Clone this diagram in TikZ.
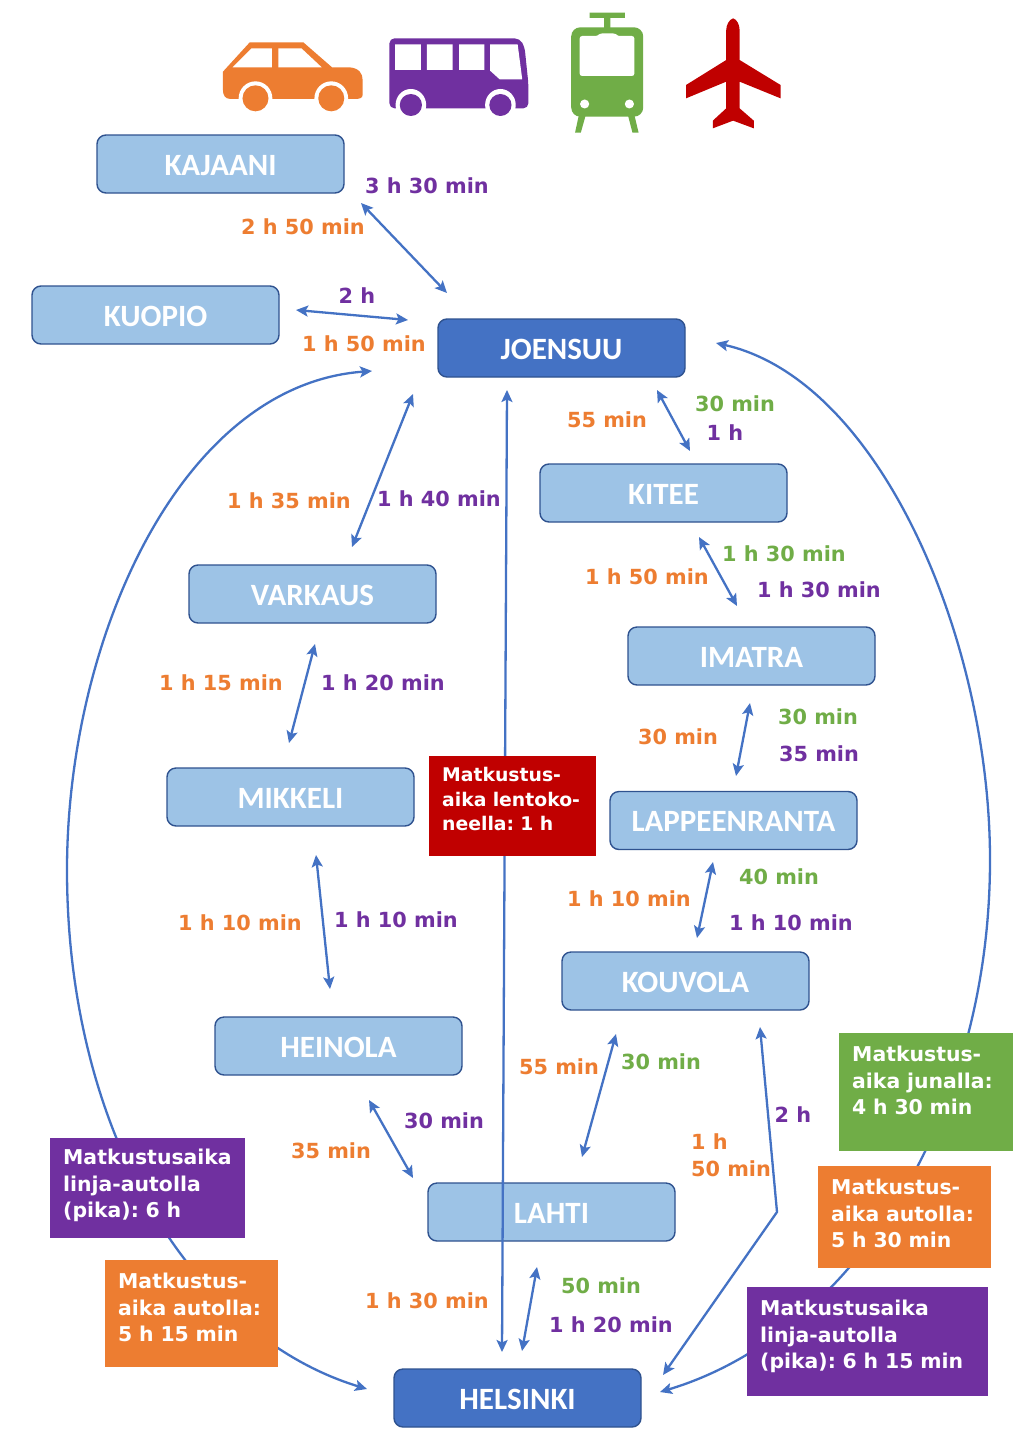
\documentclass[tikz,border=0pt]{standalone}
\usepackage{fontspec}
\setmainfont{DejaVu Sans}
\newfontfamily\boxfont{Carlito}
\usepackage{xcolor}
\usepackage{tikz}
\usetikzlibrary{arrows.meta}
\definecolor{carcol}{HTML}{ED7D31}
\definecolor{buscol}{HTML}{7030A0}
\definecolor{traincol}{HTML}{70AD47}
\definecolor{planecol}{HTML}{C00000}
\definecolor{citycol}{HTML}{9DC3E6}
\definecolor{hubcol}{HTML}{4472C4}
\definecolor{edgecol}{HTML}{2F528F}

\begin{document}
\begin{tikzpicture}[
  x=1pt, y=-1pt, >={Stealth[length=12pt,width=11pt,inset=2.5pt]},
  city/.style={draw=edgecol, line width=1.4pt, rounded corners=9pt, fill=citycol, text=white, font=\boxfont\bfseries\fontsize{31}{33}\selectfont, minimum width=247pt, minimum height=58pt, inner sep=0pt, text height=22pt, text depth=0pt},
  hub/.style={city, fill=hubcol},
  carl/.style={text=carcol, font=\bfseries\fontsize{20.8}{27}\selectfont, inner sep=0pt, align=left},
  busl/.style={carl, text=buscol},
  trainl/.style={carl, text=traincol},
  info/.style={anchor=north west, text=white, font=\bfseries\fontsize{20.4}{26.5}\selectfont\frenchspacing, align=left, inner sep=0pt, text width=#1-26pt, inner xsep=13pt},
  arr/.style={<->, line width=2.3pt, color=hubcol},
]
\useasboundingbox (0,0) rectangle (1024,1448);
\fill[white] (0,0) rectangle (1024,1448);

% icons
\begin{scope}[shift={(200,0)}, xscale=0.3827, yscale=0.3333]
  \fill[carcol] (60,215) -- (130,127) -- (270,127) -- (345,202) -- (390,202) .. controls (415,204) and (425,220) .. (425,240) -- (425,285) .. controls (425,295) and (415,297) .. (405,297) -- (80,297) .. controls (65,297) and (60,285) .. (60,270) -- cycle;
  \fill[white] (85,202) -- (135,145) -- (188,145) -- (188,202) -- cycle;
  \fill[white] (205,145) -- (265,145) -- (318,202) -- (205,202) -- cycle;
  \fill[white] (145,295) ellipse (44 and 51) (343,295) ellipse (44 and 51);
  \fill[carcol] (145,295) ellipse (34 and 39) (343,295) ellipse (34 and 39);

  \fill[buscol, rounded corners=5pt] (495,115) -- (835,115) -- (848,140) -- (858,250) -- (858,325) -- (495,325) -- cycle;
  \fill[white] (510,133) rectangle (577,210) (593,133) rectangle (660,210) (677,133) rectangle (743,210);
  \fill[white] (758,133) -- (830,133) -- (842,238) -- (783,238) -- (758,212) -- cycle;
  \fill[white] (551,315) ellipse (40 and 48) (785,315) ellipse (40 and 48);
  \fill[buscol] (551,315) ellipse (29 and 33) (785,315) ellipse (29 and 33);

  \fill[traincol] (1018,38) rectangle (1110,54) (1056,54) rectangle (1072,85);
  \fill[traincol, rounded corners=9pt] (970,82) rectangle (1158,350);
  \fill[traincol] (990,345) -- (1008,345) -- (995,398) -- (980,398) -- cycle;
  \fill[traincol] (1118,345) -- (1135,345) -- (1146,398) -- (1130,398) -- cycle;
  \fill[white, rounded corners=2.5pt] (992,108) -- (1040,108) -- (1045,100) -- (1085,100) -- (1090,108) -- (1135,108) -- (1135,228) -- (992,228) -- cycle;
  \fill[white] (1005,312) ellipse (12 and 13.5) (1122,312) ellipse (12 and 13.5);

  \fill[planecol] (1393,55) .. controls (1403,58) and (1410,75) .. (1410,90) -- (1410,180) -- (1517,255) -- (1517,295) -- (1410,245) -- (1410,325) -- (1447,362) -- (1447,385) -- (1393,362) -- (1340,385) -- (1340,362) -- (1375,325) -- (1375,245) -- (1270,295) -- (1270,255) -- (1375,180) -- (1375,90) .. controls (1375,75) and (1383,58) .. (1393,55) -- cycle;
\end{scope}

% arrow ends
\coordinate (kajA) at (361,203);
\coordinate (kajB) at (447,293);
\coordinate (kuoA) at (296,310);
\coordinate (kuoB) at (408,320);
\coordinate (varA) at (413,394);
\coordinate (varB) at (352,547);
\coordinate (kitA) at (657,390);
\coordinate (kitB) at (690,451);
\coordinate (imaA) at (699,537);
\coordinate (imaB) at (737,606);
\coordinate (mikA) at (315,644);
\coordinate (mikB) at (289,743);
\coordinate (lapA) at (750,703);
\coordinate (lapB) at (736,776);
\coordinate (heiA) at (316,855);
\coordinate (heiB) at (330,989);
\coordinate (kouA) at (713,862);
\coordinate (kouB) at (697,938);
\coordinate (lahA) at (369,1100);
\coordinate (lahB) at (413,1178);
\coordinate (klaA) at (616,1034);
\coordinate (klaB) at (582,1157);
\coordinate (helA) at (537,1267);
\coordinate (helB) at (522,1351);
\coordinate (airA) at (507,390);
\coordinate (airB) at (502,1352);
\coordinate (expA) at (760,1027);
\coordinate (expK) at (777,1212);
\coordinate (expB) at (663,1375);
\coordinate (lefA) at (372,371);
\coordinate (lefM) at (67,870);
\coordinate (lefB) at (367,1389);
\coordinate (rigA) at (716,343);
\coordinate (rigM) at (990,860);
\coordinate (rigB) at (660,1392);

\draw[arr] (kajA) -- (kajB);
\draw[arr] (kuoA) -- (kuoB);
\draw[arr] (varA) -- (varB);
\draw[arr] (kitA) -- (kitB);
\draw[arr] (imaA) -- (imaB);
\draw[arr] (mikA) -- (mikB);
\draw[arr] (lapA) -- (lapB);
\draw[arr] (heiA) -- (heiB);
\draw[arr] (kouA) -- (kouB);
\draw[arr] (lahA) -- (lahB);
\draw[arr] (klaA) -- (klaB);
\draw[arr] (helA) -- (helB);
\draw[arr] (expA) -- (expK) -- (expB);
\draw[arr] (lefA) .. controls (180,385) and (67,640) .. (lefM) .. controls (67,1130) and (190,1335) .. (lefB);
\draw[arr] (rigA) .. controls (880,380) and (990,640) .. (rigM) .. controls (990,1120) and (850,1335) .. (rigB);

\node[city] (kaj) at (220.5,164) {KAJAANI};
\node[city] (kuo) at (155.5,315) {KUOPIO};
\node[hub] (joe) at (561.5,348) {JOENSUU};
\node[city] (kit) at (663.5,493) {KITEE};
\node[city] (var) at (312.5,594) {VARKAUS};
\node[city] (ima) at (751.5,656) {IMATRA};
\node[city] (mik) at (290.5,797) {MIKKELI};
\node[city] (lap) at (733.5,820.5) {LAPPEENRANTA};
\node[city] (kou) at (685.5,981) {KOUVOLA};
\node[city] (hei) at (338.5,1046) {HEINOLA};
\node[city] (lah) at (551.5,1212) {LAHTI};
\node[hub] (hel) at (517.5,1398) {HELSINKI};

\draw[arr] (airA) -- (airB);

\node[info=167pt, fill=planecol, minimum height=100pt, text depth=63.5pt, font=\bfseries\fontsize{18.8}{24.5}\selectfont\frenchspacing] (infoair) at (429,756) {Matkustus-\\aika lentoko-\\neella: 1 h};
\node[info=174pt, fill=traincol, minimum height=118pt, text depth=76.5pt] (infotrain) at (839,1033) {Matkustus-\\aika junalla:\\4 h 30 min};
\node[info=173pt, fill=carcol, minimum height=102pt, text depth=60.5pt] (infocarr) at (818,1166) {Matkustus-\\aika autolla:\\5 h 30 min};
\node[info=241pt, fill=buscol, minimum height=109pt, text depth=67.5pt] (infobusr) at (747,1287) {Matkustusaika\\linja-autolla\\(pika): 6 h 15 min};
\node[info=195pt, fill=buscol, minimum height=100pt, text depth=62.5pt] (infobusl) at (50,1138) {Matkustusaika\\linja-autolla\\(pika): 6 h};
\node[info=173pt, fill=carcol, minimum height=107pt, text depth=65.5pt] (infocarl) at (105,1260) {Matkustus-\\aika autolla:\\5 h 15 min};

\node[busl] (kajB1) at (427,186) {3 h 30 min};
\node[carl] (kajC) at (303,227) {2 h 50 min};
\node[busl] (kuoB1) at (357,296) {2 h};
\node[carl] (kuoC) at (364,344) {1 h 50 min};
\node[carl] (kitC) at (607,420) {55 min};
\node[trainl] (kitT) at (735,404) {30 min};
\node[busl] (kitB1) at (725,433) {1 h};
\node[carl] (varC) at (289,501) {1 h 35 min};
\node[busl] (varB1) at (439,499) {1 h 40 min};
\node[trainl] (imaT) at (784,554) {1 h 30 min};
\node[carl] (imaC) at (647,577) {1 h 50 min};
\node[busl] (imaB1) at (819,590) {1 h 30 min};
\node[carl] (mikC) at (221,683) {1 h 15 min};
\node[busl] (mikB1) at (383,683) {1 h 20 min};
\node[carl] (lapC) at (678,737) {30 min};
\node[trainl] (lapT) at (818,717) {30 min};
\node[busl] (lapB1) at (819,754) {35 min};
\node[trainl] (kouT) at (779,877) {40 min};
\node[carl] (kouC) at (629,899) {1 h 10 min};
\node[busl] (kouB1) at (791,923) {1 h 10 min};
\node[carl] (heiC) at (240,923) {1 h 10 min};
\node[busl] (heiB1) at (396,920) {1 h 10 min};
\node[carl] (klaC) at (559,1067) {55 min};
\node[trainl] (klaT) at (661,1062) {30 min};
\node[busl] (expB1) at (793,1115) {2 h};
\node[carl] (expC) at (731,1155) {1 h\\50 min};
\node[busl] (lahB1) at (444,1121) {30 min};
\node[carl] (lahC) at (331,1151) {35 min};
\node[trainl] (helT) at (601,1286) {50 min};
\node[carl] (helC) at (427,1301) {1 h 30 min};
\node[busl] (helB1) at (611,1325) {1 h 20 min};
\end{tikzpicture}
\end{document}
